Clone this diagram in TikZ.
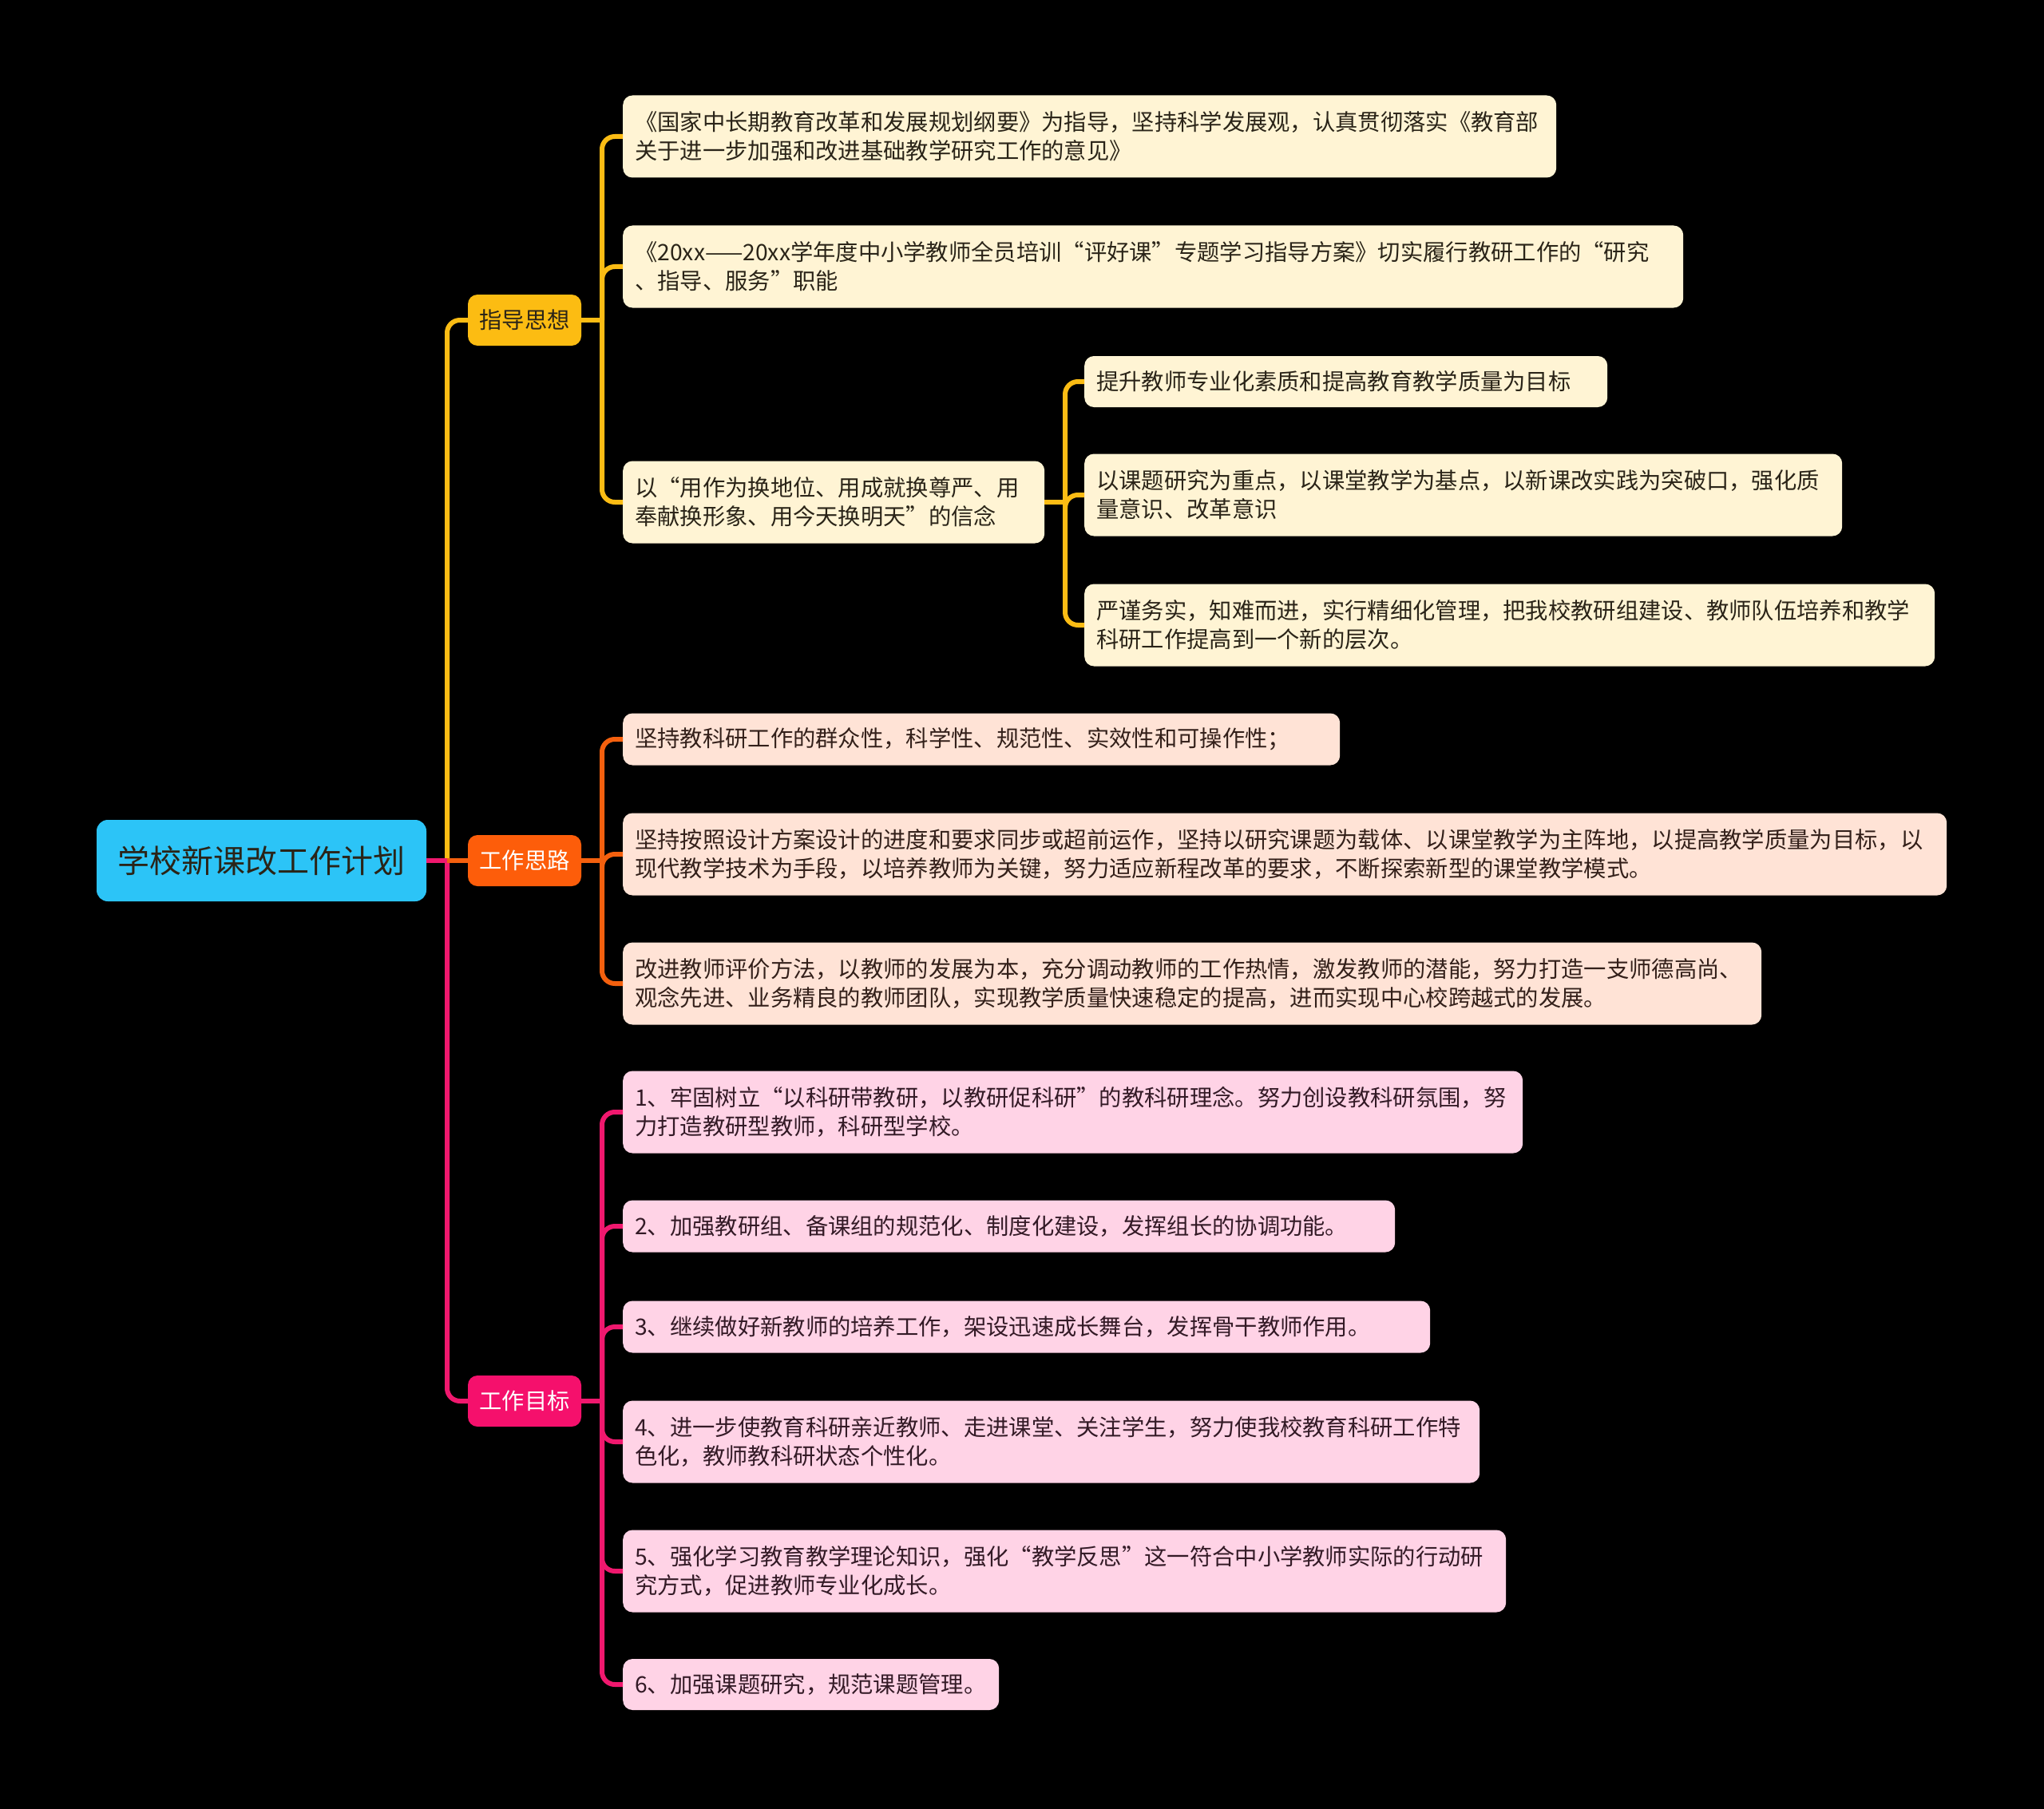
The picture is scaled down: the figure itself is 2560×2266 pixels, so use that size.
\documentclass[tikz,border=0pt]{standalone}
\usepackage{fontspec}
\setmainfont{Noto Sans CJK SC}
\definecolor{bg}{HTML}{000000}
\definecolor{rootfill}{HTML}{2CC4F7}
\definecolor{yelfill}{HTML}{FCBC12}
\definecolor{orafill}{HTML}{FD5D0A}
\definecolor{magfill}{HTML}{F5106C}
\definecolor{cream}{HTML}{FFF4D4}
\definecolor{peach}{HTML}{FFE3D6}
\definecolor{pinkf}{HTML}{FFD3E6}
\definecolor{yelln}{HTML}{FBBC14}
\definecolor{oraln}{HTML}{F4600E}
\definecolor{magln}{HTML}{F0186E}
\definecolor{txtdark}{HTML}{2A2418}
\definecolor{txtora}{HTML}{33201A}
\definecolor{txtpink}{HTML}{331A26}
\begin{document}
\begin{tikzpicture}[x=1pt,y=-1pt,
  leaf/.style={rounded corners=12pt, anchor=west, inner xsep=15pt, inner ysep=0pt,
    align=left, font=\fontsize{28.3pt}{36pt}\selectfont},
  yleaf/.style={leaf, fill=cream, text=txtdark},
  oleaf/.style={leaf, fill=peach, text=txtora},
  pleaf/.style={leaf, fill=pinkf, text=txtpink},
  mainbox/.style={rounded corners=12pt, inner sep=0pt, minimum width=142pt, minimum height=64pt,
    font=\fontsize{28.3pt}{36pt}\selectfont},
  connline/.style={line width=6pt, rounded corners=16pt},
  lnyel/.style={connline, draw=yelln},
  lnora/.style={connline, draw=oraln},
  lnmag/.style={connline, draw=magln}]
\fill[bg] (0,0) rectangle (2560,2266);
\useasboundingbox (0,0) rectangle (2560,2266);

% root
\node[rounded corners=14pt, fill=rootfill, text=txtdark, minimum width=413pt, minimum height=102pt,
  inner sep=0pt, font=\fontsize{40pt}{48pt}\selectfont] (root) at (327.5,1078) {学校新课改工作计划};

% first level
\node[mainbox, fill=yelfill, text=txtdark] (g1) at (657,401) {指导思想};
\node[mainbox, fill=orafill, text=white] (g2) at (657,1078) {工作思路};
\node[mainbox, fill=magfill, text=white] (g3) at (657,1755) {工作目标};

% 指导思想 children
\node[yleaf, text width=1139pt, minimum height=103pt] (c1) at (780,171)
  {《国家中长期教育改革和发展规划纲要》为指导，坚持科学发展观，认真贯彻落实《教育部\\关于进一步加强和改进基础教学研究工作的意见》};
\node[yleaf, text width=1298pt, minimum height=103pt] (c2) at (780,334)
  {《20xx——20xx学年度中小学教师全员培训“评好课”专题学习指导方案》切实履行教研工作的“研究\\、指导、服务”职能};
\node[yleaf, text width=498pt, minimum height=103pt] (c3) at (780,629)
  {以“用作为换地位、用成就换尊严、用\\奉献换形象、用今天换明天”的信念};
\node[yleaf, text width=625pt, minimum height=64pt] (d1) at (1358,478)
  {提升教师专业化素质和提高教育教学质量为目标};
\node[yleaf, text width=919pt, minimum height=103pt] (d2) at (1358,620)
  {以课题研究为重点，以课堂教学为基点，以新课改实践为突破口，强化质\\量意识、改革意识};
\node[yleaf, text width=1035pt, minimum height=103pt] (d3) at (1358,783)
  {严谨务实，知难而进，实行精细化管理，把我校教研组建设、教师队伍培养和教学\\科研工作提高到一个新的层次。};

% 工作思路 children
\node[oleaf, text width=868pt, minimum height=65pt] (e1) at (780,926)
  {坚持教科研工作的群众性，科学性、规范性、实效性和可操作性；};
\node[oleaf, text width=1628pt, minimum height=103pt] (e2) at (780,1070)
  {坚持按照设计方案设计的进度和要求同步或超前运作，坚持以研究课题为载体、以课堂教学为主阵地，以提高教学质量为目标，以\\现代教学技术为手段，以培养教师为关键，努力适应新程改革的要求，不断探索新型的课堂教学模式。};
\node[oleaf, text width=1396pt, minimum height=103pt] (e3) at (780,1232)
  {改进教师评价方法，以教师的发展为本，充分调动教师的工作热情，激发教师的潜能，努力打造一支师德高尚、\\观念先进、业务精良的教师团队，实现教学质量快速稳定的提高，进而实现中心校跨越式的发展。};

% 工作目标 children
\node[pleaf, text width=1097pt, minimum height=103pt] (f1) at (780,1393)
  {1、牢固树立“以科研带教研，以教研促科研”的教科研理念。努力创设教科研氛围，努\\力打造教研型教师，科研型学校。};
\node[pleaf, text width=937pt, minimum height=65pt] (f2) at (780,1536)
  {2、加强教研组、备课组的规范化、制度化建设，发挥组长的协调功能。};
\node[pleaf, text width=981pt, minimum height=65pt] (f3) at (780,1662)
  {3、继续做好新教师的培养工作，架设迅速成长舞台，发挥骨干教师作用。};
\node[pleaf, text width=1043pt, minimum height=103pt] (f4) at (780,1806)
  {4、进一步使教育科研亲近教师、走进课堂、关注学生，努力使我校教育科研工作特\\色化，教师教科研状态个性化。};
\node[pleaf, text width=1076pt, minimum height=103pt] (f5) at (780,1968)
  {5、强化学习教育教学理论知识，强化“教学反思”这一符合中小学教师实际的行动研\\究方式，促进教师专业化成长。};
\node[pleaf, text width=441pt, minimum height=64pt] (f6) at (780,2110)
  {6、加强课题研究，规范课题管理。};

% junctions
\coordinate (j0) at (560,1078);
\coordinate (j1) at (754,401);
\coordinate (j2) at (754,1078);
\coordinate (j3) at (754,1755);
\coordinate (j4) at (1334,629);

% connectors from root
\draw[lnyel] (j0) |- (g1.west);
\draw[lnmag] (j0) |- (g3.west);
\draw[lnmag] (root.east) -- (j0);
\draw[lnora] (j0) -- (g2.west);

% 指导思想
\draw[lnyel] (g1.east) -- (j1);
\draw[lnyel] (j1) |- (c1.west);
\draw[lnyel] (j1) |- (c2.west);
\draw[lnyel] (j1) |- (c3.west);
\draw[lnyel] (c3.east) -- (j4);
\draw[lnyel] (j4) |- (d1.west);
\draw[lnyel] (j4) |- (d2.west);
\draw[lnyel] (j4) |- (d3.west);

% 工作思路
\draw[lnora] (g2.east) -- (j2);
\draw[lnora] (j2) |- (e1.west);
\draw[lnora] (j2) |- (e2.west);
\draw[lnora] (j2) |- (e3.west);

% 工作目标
\draw[lnmag] (g3.east) -- (j3);
\draw[lnmag] (j3) |- (f1.west);
\draw[lnmag] (j3) |- (f2.west);
\draw[lnmag] (j3) |- (f3.west);
\draw[lnmag] (j3) |- (f4.west);
\draw[lnmag] (j3) |- (f5.west);
\draw[lnmag] (j3) |- (f6.west);
\end{tikzpicture}
\end{document}
